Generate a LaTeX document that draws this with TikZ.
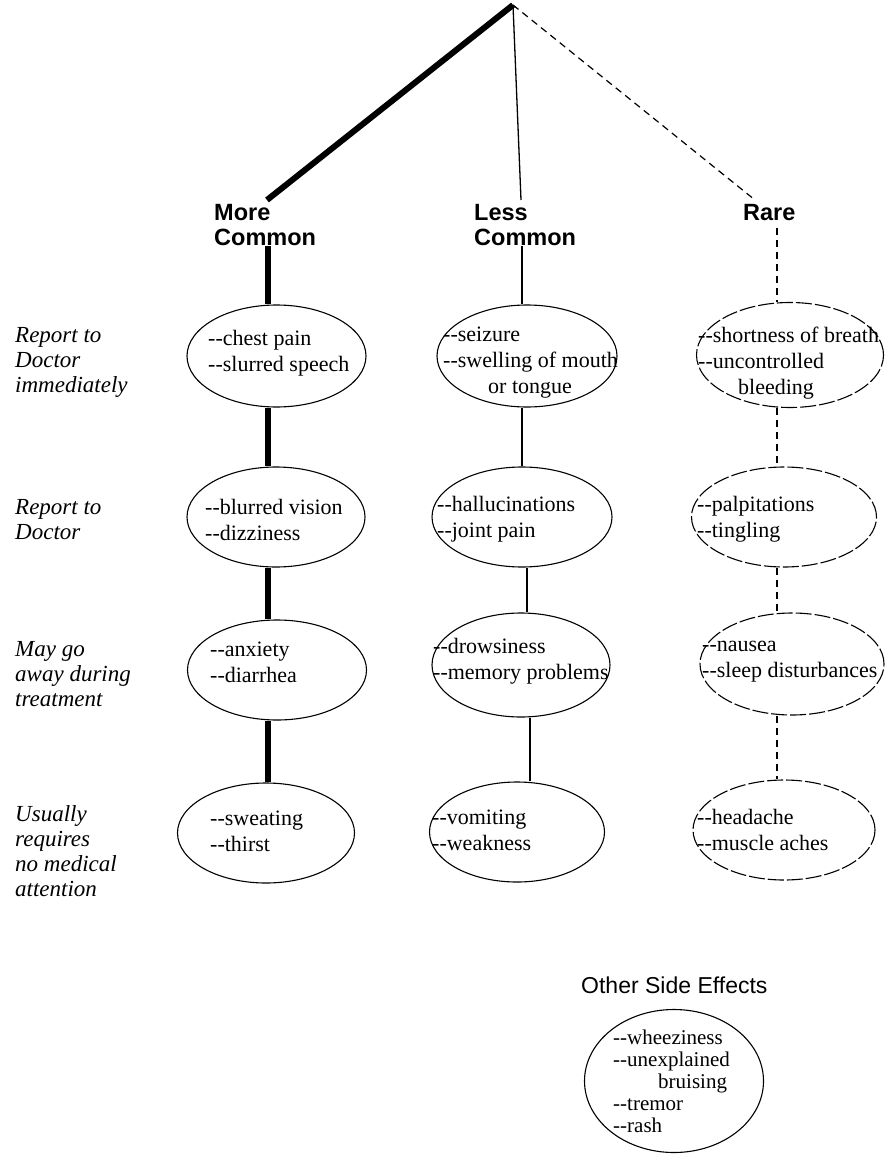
\documentclass[tikz,border=0pt]{standalone}
\usepackage{fontspec}
\setmainfont{Liberation Serif}
\newfontfamily\hsans{Liberation Sans}
\usetikzlibrary{shapes.geometric}
\newcommand\hy{\mbox{-}\mbox{-}}
\begin{document}
\begin{tikzpicture}[x=1pt,y=-1pt,
  heavy/.style={line width=6pt},
  medium/.style={line width=1.3pt},
  rareline/.style={line width=1.2pt,dash pattern=on 7pt off 5pt},
  oval/.style={ellipse,draw,line width=1.1pt,inner sep=0pt},
  rareoval/.style={oval,dash pattern=on 16pt off 3pt},
  etext/.style={anchor=west,inner sep=0pt,align=left,font=\fontsize{22}{26}\selectfont},
  lbl/.style={anchor=west,inner sep=0pt,align=left,font=\fontsize{23}{25}\selectfont\itshape},
  ttl/.style={anchor=west,inner sep=0pt,align=left,font=\hsans\bfseries\fontsize{23.5}{25}\selectfont},
]
\useasboundingbox (0,0) rectangle (886,1155);
% column x helpers
\coordinate (cL) at (268,0);
\coordinate (cM1) at (522,0);
\coordinate (cM2) at (527,0);
\coordinate (cM3) at (530,0);
\coordinate (cR) at (777,0);
% titles
\node[ttl] (tMC) at (214,225.5) {More\\Common};
\node[ttl] (tLC) at (474,225.5) {Less\\Common};
\node[ttl] (tR) at (743,213) {Rare};
\coordinate (rTop) at ([yshift=-7pt]tR.south);
% apex lines
\coordinate (apex) at (513,5);
\coordinate (endMC) at (267,200);
\coordinate (endLC) at (521,200);
\coordinate (endR) at (755,200);
\draw[heavy] (apex) -- (endMC);
\draw[medium] (apex) -- (endLC);
\draw[rareline] (apex) -- (endR);
% ellipses
\node[oval,minimum width=179pt,minimum height=102pt] (E1) at (276.5,356) {};
\node[oval,minimum width=178pt,minimum height=100pt] (E2) at (276,517) {};
\node[oval,minimum width=179pt,minimum height=100pt] (E3) at (277,670) {};
\node[oval,minimum width=177pt,minimum height=100pt] (E4) at (266,833) {};
\node[oval,minimum width=180pt,minimum height=102pt] (M1) at (527,356) {};
\node[oval,minimum width=180pt,minimum height=100pt] (M2) at (522,517) {};
\node[oval,minimum width=178pt,minimum height=104pt] (M3) at (521,665) {};
\node[oval,minimum width=175pt,minimum height=100pt] (M4) at (517,832) {};
\node[rareoval,minimum width=187pt,minimum height=105pt] (R1) at (790,355) {};
\node[rareoval,minimum width=185pt,minimum height=100pt] (R2) at (784,517) {};
\node[rareoval,minimum width=184pt,minimum height=102pt] (R3) at (792,664) {};
\node[rareoval,minimum width=182pt,minimum height=100pt] (R4) at (784,830) {};
\node[oval,minimum width=179pt,minimum height=143pt] (O) at (674,1081) {};
% connectors
\draw[heavy] (cL |- tMC.south) -- (cL |- E1.north);
\draw[heavy] (cL |- E1.south) -- (cL |- E2.north);
\draw[heavy] (cL |- E2.south) -- (cL |- E3.north);
\draw[heavy] (cL |- E3.south) -- (cL |- E4.north);
\draw[medium] (cM1 |- tLC.south) -- (cM1 |- M1.north);
\draw[medium] (cM1 |- M1.south) -- (cM1 |- M2.north);
\draw[medium] (cM2 |- M2.south) -- (cM2 |- M3.north);
\draw[medium] (cM3 |- M3.south) -- (cM3 |- M4.north);
\draw[rareline] (cR |- rTop) -- (cR |- R1.north);
\draw[rareline] (cR |- R1.south) -- (cR |- R2.north);
\draw[rareline] (cR |- R2.south) -- (cR |- R3.north);
\draw[rareline] (cR |- R3.south) -- (cR |- R4.north);
% ellipse texts
\node[etext] (xE1) at (208,353.5) {\hy chest pain\\\hy slurred speech};
\node[etext] (xE2) at (205,519.5) {\hy blurred vision\\\hy dizziness};
\node[etext] (xE3) at (210,662.5) {\hy anxiety\\\hy diarrhea};
\node[etext] (xE4) at (210,831.5) {\hy sweating\\\hy thirst};
\node[etext] (xM1) at (443,362.7) {\hy seizure\\\hy swelling of mouth\\\hspace{45pt}or tongue};
\node[etext] (xM2) at (437,519.5) {\hy hallucinations\\\hy joint pain};
\node[etext] (xM3) at (433,661.5) {\hy drowsiness\\\hy memory problems};
\node[etext] (xM4) at (432,830) {\hy vomiting\\\hy weakness};
\node[etext] (xR1) at (698,363) {\hy shortness of breath\\\hy uncontrolled\\\hspace{40pt}bleeding};
\node[etext] (xR2) at (697,519.5) {\hy palpitations\\\hy tingling};
\node[etext] (xR3) at (702,661.5) {\hy nausea\\\hy sleep disturbances};
\node[etext] (xR4) at (697,830) {\hy headache\\\hy muscle aches};
\node[etext,font=\fontsize{21}{22}\selectfont] (xO) at (613,1081.8) {\hy wheeziness\\\hy unexplained\\\hspace{45pt}bruising\\\hy tremor\\\hy rash};
% row labels
\node[lbl] (L1) at (15,362) {Report to\\Doctor\\immediately};
\node[lbl] (L2) at (15,519.5) {Report to\\Doctor};
\node[lbl] (L3) at (15,673.7) {May go\\away during\\treatment};
\node[lbl] (L4) at (15,851.5) {Usually\\requires\\no medical\\attention};
% other side effects
\node[anchor=west,inner sep=0pt,font=\hsans\fontsize{23}{25}\selectfont] (ot) at (581,985) {Other Side Effects};
\end{tikzpicture}
\end{document}
